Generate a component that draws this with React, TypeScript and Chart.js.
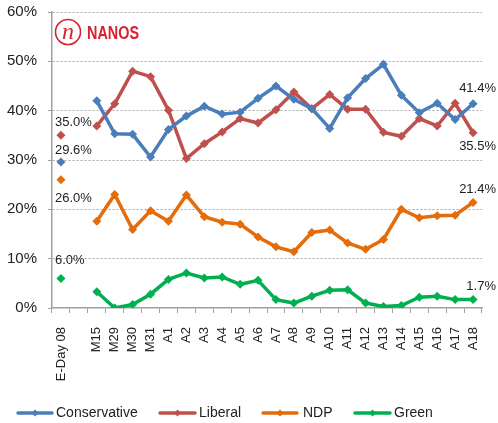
import React, { useEffect, useRef } from "react";
import { Chart, registerables } from "chart.js";

Chart.register(...registerables);

const categories = ["E-Day 08", "", "M15", "M29", "M30", "M31", "A1", "A2", "A3", "A4", "A5", "A6", "A7", "A8", "A9", "A10", "A11", "A12", "A13", "A14", "A15", "A16", "A17", "A18"];
const conservative = [29.6, null, 42.0, 35.3, 35.2, 30.6, 36.2, 38.9, 40.9, 39.3, 39.7, 42.5, 45.0, 42.3, 40.4, 36.4, 42.6, 46.5, 49.4, 43.1, 39.6, 41.5, 38.2, 41.4];
const liberal = [35.0, null, 36.9, 41.4, 48.0, 46.9, 40.1, 30.3, 33.3, 35.7, 38.4, 37.5, 40.2, 43.8, 40.4, 43.3, 40.3, 40.3, 35.6, 34.8, 38.4, 36.9, 41.5, 35.5];
const ndp = [26.0, null, 17.6, 23.0, 15.9, 19.7, 17.6, 22.9, 18.5, 17.4, 17.0, 14.4, 12.4, 11.4, 15.3, 15.8, 13.2, 11.9, 13.9, 20.0, 18.3, 18.7, 18.8, 21.4];
const green = [6.0, null, 3.3, 0.0, 0.7, 2.8, 5.8, 7.1, 6.1, 6.3, 4.8, 5.6, 1.7, 1.0, 2.4, 3.6, 3.7, 1.0, 0.3, 0.5, 2.2, 2.4, 1.7, 1.7];
const seriesNames = ["Conservative", "Liberal", "NDP", "Green"];
const seriesColors = ["#4a7ebb", "#c0504d", "#e46c0a", "#00b050"];
const yTicks = [0, 10, 20, 30, 40, 50, 60];

const FONT = "'Liberation Sans', Arial, sans-serif";
// label offsets (first point, last point) per series
const firstOffsets = [-12, -13, 19, -18];
const lastOffsets = [-15, 14, -13, -13];

const overlayPlugin = {
  id: "overlay",
  afterDatasetsDraw(chart: any) {
    const ctx = chart.ctx;
    const ys = chart.scales.y;
    ctx.save();
    ctx.font = `13px ${FONT}`;
    ctx.fillStyle = "#222";
    ctx.textBaseline = "middle";
    chart.data.datasets.forEach((ds: any, i: number) => {
      const d = ds.data;
      const first = d[0];
      const lastIdx = d.length - 1;
      const last = d[lastIdx];
      ctx.textAlign = "left";
      ctx.fillText(first.toFixed(1) + "%", 55, ys.getPixelForValue(first) + firstOffsets[i]);
      ctx.textAlign = "right";
      ctx.fillText(last.toFixed(1) + "%", 496, ys.getPixelForValue(last) + lastOffsets[i]);
    });
    ctx.restore();

    // logo
    ctx.save();
    const red = "#d42430";
    ctx.strokeStyle = red;
    ctx.lineWidth = 1.6;
    ctx.beginPath();
    ctx.arc(68, 32, 12.5, 0, Math.PI * 2);
    ctx.stroke();
    ctx.fillStyle = red;
    ctx.font = `italic 24px 'Liberation Serif', serif`;
    ctx.textAlign = "center";
    ctx.textBaseline = "alphabetic";
    ctx.fillText("n", 68, 39);
    ctx.translate(87, 38.5);
    ctx.scale(0.8, 1);
    ctx.textAlign = "left";
    ctx.font = `bold 18px ${FONT}`;
    ctx.fillText("NANOS", 0, 0);
    ctx.restore();

    // legend
    ctx.save();
    const items = [
      { x1: 18, x2: 52, tx: 56 },
      { x1: 160, x2: 195, tx: 199 },
      { x1: 263, x2: 297, tx: 303 },
      { x1: 355, x2: 390, tx: 394 },
    ];
    const ly = 413;
    items.forEach((it, i) => {
      ctx.strokeStyle = seriesColors[i];
      ctx.fillStyle = seriesColors[i];
      ctx.lineWidth = 3.5;
      ctx.lineCap = "round";
      ctx.beginPath();
      ctx.moveTo(it.x1, ly);
      ctx.lineTo(it.x2, ly);
      ctx.stroke();
      const cx = (it.x1 + it.x2) / 2;
      ctx.beginPath();
      ctx.moveTo(cx, ly - 3.5);
      ctx.lineTo(cx + 3.5, ly);
      ctx.lineTo(cx, ly + 3.5);
      ctx.lineTo(cx - 3.5, ly);
      ctx.closePath();
      ctx.fill();
      ctx.fillStyle = "#222";
      ctx.font = `14px ${FONT}`;
      ctx.textAlign = "left";
      ctx.textBaseline = "middle";
      ctx.fillText(seriesNames[i], it.tx, ly);
    });
    ctx.restore();
  },
};

export default function App() {
  const ref = useRef<HTMLCanvasElement>(null);
  useEffect(() => {
    if (!ref.current) return;
    const allSeries = [conservative, liberal, ndp, green];
    const chart = new Chart(ref.current, {
      type: "line",
      data: {
        labels: categories,
        datasets: allSeries.map((s, i) => ({
          label: seriesNames[i],
          data: s,
          borderColor: seriesColors[i],
          backgroundColor: seriesColors[i],
          borderWidth: 3.5,
          pointStyle: "rectRot",
          pointRadius: 4.5,
          pointBorderWidth: 0,
          spanGaps: false,
          tension: 0,
        })),
      },
      options: {
        animation: false,
        responsive: true,
        maintainAspectRatio: false,
        layout: { padding: { top: 12, right: 16, bottom: 0, left: 0 } },
        plugins: { legend: { display: false }, tooltip: { enabled: false } },
        scales: {
          x: {
            type: "category",
            offset: true,
            afterFit: (s: any) => { s.height = 115; s.paddingLeft = 0; s.paddingRight = 0; },
            grid: {
              offset: true,
              drawOnChartArea: false,
              drawTicks: true,
              tickLength: 5,
              tickColor: "#a0a0a0",
              tickWidth: 1,
            },
            border: { display: true, color: "#a0a0a0", width: 1.5 },
            ticks: {
              autoSkip: false,
              maxRotation: 90,
              minRotation: 90,
              padding: 14,
              color: "#222",
              font: { family: FONT, size: 13 },
            },
          },
          y: {
            min: 0,
            max: 60,
            afterFit: (s: any) => { s.width = 52; s.paddingTop = 0; s.paddingBottom = 0; },
            afterBuildTicks: (s: any) => { s.ticks = yTicks.map((v) => ({ value: v })); },
            grid: {
              color: (c: any) => (c.tick && c.tick.value === 0 ? "rgba(0,0,0,0)" : "#a6a6a6"),
              lineWidth: 1,
              drawTicks: true,
              tickLength: 4,
              tickColor: "#a0a0a0",
              tickBorderDash: [],
            },
            border: { display: true, color: "#a0a0a0", width: 1.5, dash: [2, 2] },
            ticks: {
              padding: 11,
              color: "#222",
              font: { family: FONT, size: 15 },
              callback: (v: any) => v + "%",
            },
          },
        },
      },
      plugins: [overlayPlugin],
    } as any);
    return () => chart.destroy();
  }, []);
  return (
    <div style={{ position: "fixed", left: 0, top: 0, width: 498, height: 423, background: "#fff" }}>
      <canvas ref={ref} />
    </div>
  );
}
